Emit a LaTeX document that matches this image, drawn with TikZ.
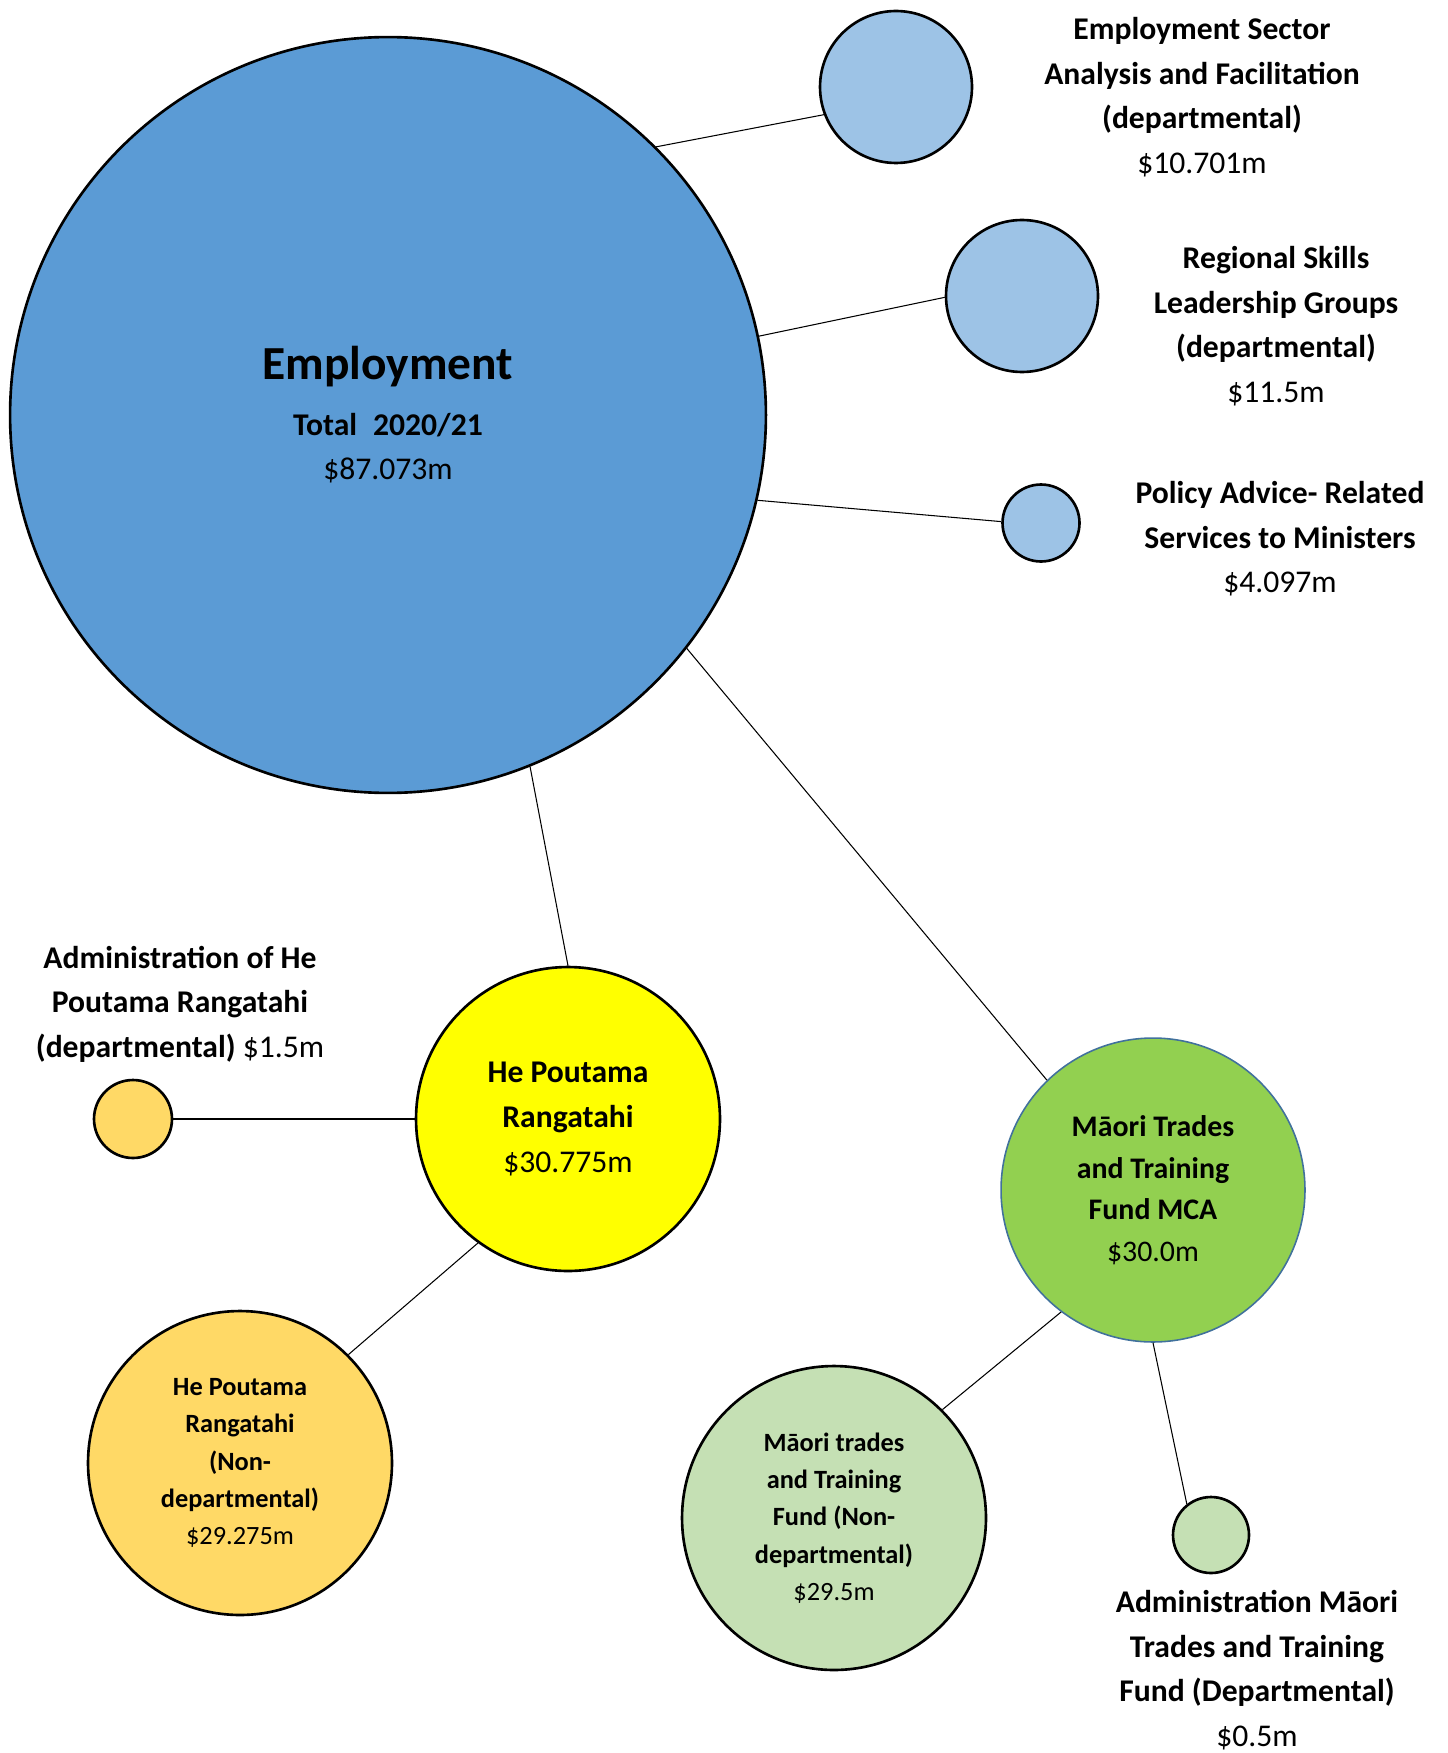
\documentclass[tikz,border=0pt]{standalone}
\usepackage{fontspec}
\setmainfont{Carlito}
\usetikzlibrary{positioning}

\definecolor{empblue}{HTML}{5B9BD5}
\definecolor{lightblue}{HTML}{9DC3E6}
\definecolor{hpryellow}{HTML}{FFFF00}
\definecolor{hprorange}{HTML}{FFD966}
\definecolor{mttfgreen}{HTML}{92D050}
\definecolor{mttflight}{HTML}{C5E0B4}
\definecolor{edgeblue}{HTML}{41719C}

\begin{document}
\begin{tikzpicture}[x=0.02cm, y=-0.02cm,
    bubble/.style={circle, draw=black, line width=1.5pt, inner sep=0pt, align=center,
                   font=\bfseries\fontsize{18}{25.4}\selectfont},
    small/.style={font=\bfseries\fontsize{15}{21.2}\selectfont},
    lbl/.style={align=center, font=\bfseries\fontsize{18}{25.4}\selectfont},
    conn/.style={line width=0.6pt}]
			\useasboundingbox (0,0) rectangle (1447,1753);

			% Draw the main circle
			\node[bubble, fill=empblue, minimum size=15.12cm] (emp) at (388,415)
				{{\fontsize{27}{30}\selectfont Employment}\\[6pt] Total\enspace 2020/21\\ \mdseries\$87.073m};

			% Draw the departmental circles on the right
			\node[bubble, fill=lightblue, minimum size=3.04cm] (esaf) at (896,87) {};
			\node[bubble, fill=lightblue, minimum size=3.04cm] (rslg) at (1022,296) {};
			\node[bubble, fill=lightblue, minimum size=1.54cm] (pol) at (1041,523) {};

			\node[lbl] (esaflbl) at (1202,97) {Employment Sector\\ Analysis and Facilitation\\ (departmental)\\ \mdseries\$10.701m};
			\node[lbl] (rslglbl) at (1276,326) {Regional Skills\\ Leadership Groups\\ (departmental)\\ \mdseries\$11.5m};
			\node[lbl] (pollbl) at (1280,539) {Policy Advice- Related\\ Services to Ministers\\ \mdseries\$4.097m};

			% He Poutama Rangatahi
			\node[bubble, fill=hpryellow, minimum size=6.08cm] (hpr) at (568,1119)
				{He Poutama\\ Rangatahi\\ \mdseries\$30.775m};
			\node[bubble, fill=hprorange, minimum size=1.56cm] (hpradmin) at (133,1119) {};
			\node[lbl] (hpradminlbl) at (180,1004) {Administration of He\\ Poutama Rangatahi\\ (departmental) \mdseries\$1.5m};
			\node[bubble, small, fill=hprorange, minimum size=6.08cm] (hprnd) at (240,1463)
				{He Poutama\\ Rangatahi\\ (Non-\\ departmental)\\ \mdseries\$29.275m};

			% Maori Trades and Training Fund
			\node[bubble, draw=edgeblue, line width=0.9pt, fill=mttfgreen, minimum size=6.08cm,
				font=\bfseries\fontsize{17}{23.6}\selectfont] (mttf) at (1153,1190)
				{Māori Trades\\ and Training\\ Fund MCA\\ \mdseries\$30.0m};
			\node[bubble, small, fill=mttflight, minimum size=6.08cm] (mttfnd) at (834,1518)
				{Māori trades\\ and Training\\ Fund (Non-\\ departmental)\\ \mdseries\$29.5m};
			\node[bubble, fill=mttflight, minimum size=1.52cm] (mttfadmin) at (1211,1535) {};
			\node[lbl] (mttfadminlbl) at (1257,1670) {Administration Māori\\ Trades and Training\\ Fund (Departmental)\\ \mdseries\$0.5m};

			% Draw the connectors
			\draw[conn] (emp.45) -- (esaf.201);
			\draw[conn] (emp.12) -- (rslg.181);
			\draw[conn] (emp.-13) -- (pol.178);
			\draw[conn] (emp.-38) -- (mttf.134);
			\draw[conn] (emp.-68) -- (hpr.90);
			\draw[line width=1.2pt] (hpradmin.0) -- (hpr.180);
			\draw[conn] (hpr.234) -- (hprnd.45);
			\draw[conn] (mttf.233) -- (mttfnd.45);
			\draw[conn] (mttf.270) -- (mttfadmin.128);
		\end{tikzpicture}
\end{document}
